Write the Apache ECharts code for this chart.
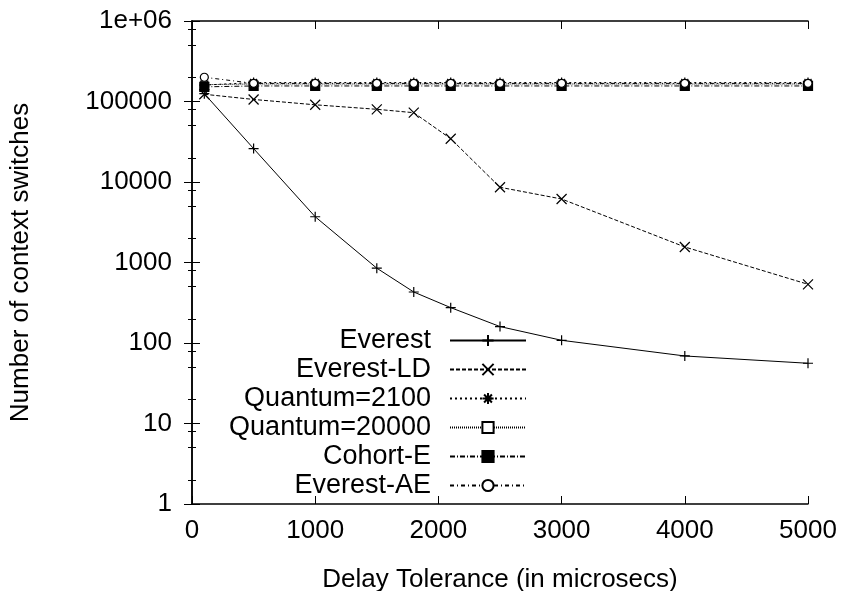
<!DOCTYPE html>
<html>
<head>
<meta charset="utf-8">
<script src="https://cdn.jsdelivr.net/npm/echarts@6/dist/echarts.min.js"></script>
<style>
  html, body { margin: 0; padding: 0; background: #fff; }
  #main { width: 848px; height: 591px; }
</style>
</head>
<body>
<div id="main"></div>
<script>
var delays = [100, 500, 1000, 1500, 1800, 2100, 2500, 3000, 4000, 5000];
var everest = [125000, 26000, 3700, 850, 430, 275, 160, 108, 69, 56];
var everestLD = [123000, 106000, 91000, 80000, 72600, 34500, 8600, 6150, 1560, 536];
var quantum2100 = [160000, 172000, 172000, 172000, 172000, 172000, 172000, 172000, 172000, 172000];
var quantum20000 = [162000, 165000, 165000, 165000, 165000, 165000, 165000, 165000, 165000, 165000];
var cohortE = [152000, 156000, 156000, 156000, 156000, 156000, 156000, 156000, 156000, 156000];
var everestAE = [200000, 168000, 168000, 168000, 168000, 168000, 168000, 168000, 168000, 168000];

// gnuplot puts small ticks at 2, 5 and 8 of each decade
var minorTicks = [];
for (var d = 1; d < 1e6; d *= 10) {
  minorTicks.push(2 * d, 5 * d, 8 * d);
}

var font = 'Liberation Sans, Arial, sans-serif';

var dom = document.getElementById('main');
var myChart = echarts.init(dom, null, { renderer: 'canvas' });

function pairs(ys) {
  var res = [];
  for (var i = 0; i < delays.length; i++) {
    res.push([delays[i], ys[i]]);
  }
  return res;
}

var symPlus = 'path://M0,5L10,5M5,0L5,10';
var symCross = 'path://M0,0L10,10M10,0L0,10';
var symStar = 'path://M0,5L10,5M5,0L5,10M1.5,1.5L8.5,8.5M8.5,1.5L1.5,8.5';

function line(name, ys, dash, symbol, size, fill) {
  return {
    name: name,
    type: 'line',
    data: pairs(ys),
    symbol: symbol,
    symbolSize: size,
    showAllSymbol: true,
    lineStyle: { color: '#000', width: 1, type: dash },
    itemStyle: { color: fill, borderColor: '#000', borderWidth: 1.2 },
    emphasis: { disabled: true }
  };
}

var axisLineStyle = { lineStyle: { color: '#000', width: 1.5 } };
var tickStyle = { color: '#000', width: 1 };
function gridBox() {
  return { left: 192, right: 40, top: 21, bottom: 87, containLabel: false, outerBoundsMode: 'none' };
}

// extra grids (same box) only carry the small log ticks
function minorAxis(pos, g) {
  return {
    type: 'log', logBase: 10, min: 1, max: 1e6, position: pos, gridIndex: g,
    axisLine: { show: false },
    axisTick: { inside: true, length: 4, customValues: minorTicks, lineStyle: tickStyle },
    axisLabel: { show: false },
    splitLine: { show: false }
  };
}

var option = {
  backgroundColor: '#fff',
  animation: false,
  textStyle: { fontFamily: font },
  grid: [gridBox(), gridBox(), gridBox()],
  legend: {
    orient: 'vertical',
    right: 321,
    top: 327,
    align: 'right',
    itemWidth: 76,
    itemHeight: 14,
    itemGap: 2,
    padding: 0,
    selectedMode: false,
    textStyle: {
      fontFamily: font, fontSize: 27, color: '#000',
      width: 170, align: 'right', padding: [0, 14, 0, 0], lineHeight: 25
    },
    data: ['Everest', 'Everest-LD', 'Quantum=2100', 'Quantum=20000', 'Cohort-E', 'Everest-AE']
  },
  xAxis: [{
    type: 'value', min: 0, max: 5000, interval: 1000,
    name: 'Delay Tolerance (in microsecs)', nameLocation: 'middle', nameGap: 63,
    nameTextStyle: { fontFamily: font, fontSize: 26, color: '#000' },
    axisLine: axisLineStyle,
    axisTick: { inside: true, length: 8, lineStyle: tickStyle },
    axisLabel: {
      fontFamily: font, fontSize: 26, color: '#000', margin: 14,
      formatter: function (v) { return String(v); }
    },
    splitLine: { show: false }
  }, {
    type: 'value', min: 0, max: 5000, interval: 1000, position: 'top',
    axisLine: axisLineStyle,
    axisTick: { inside: true, length: 8, lineStyle: tickStyle },
    axisLabel: { show: false },
    splitLine: { show: false }
  },
  { type: 'value', min: 0, max: 5000, gridIndex: 1, show: false },
  { type: 'value', min: 0, max: 5000, gridIndex: 2, show: false }
  ],
  yAxis: [{
    type: 'log', logBase: 10, min: 1, max: 1e6,
    name: 'Number of context switches', nameLocation: 'middle', nameGap: 158,
    nameTextStyle: { fontFamily: font, fontSize: 26, color: '#000' },
    axisLine: axisLineStyle,
    axisTick: { inside: true, length: 8, lineStyle: tickStyle },
    axisLabel: {
      fontFamily: font, fontSize: 26, color: '#000', margin: 20,
      formatter: function (v) { return v >= 1e6 ? '1e+06' : String(Math.round(v)); }
    },
    splitLine: { show: false }
  }, {
    type: 'log', logBase: 10, min: 1, max: 1e6, position: 'right',
    axisLine: axisLineStyle,
    axisTick: { inside: true, length: 8, lineStyle: tickStyle },
    axisLabel: { show: false },
    splitLine: { show: false }
  },
  minorAxis('left', 1),
  minorAxis('right', 2)
  ],
  series: [
    line('Everest', everest, 'solid', symPlus, 10, '#000'),
    line('Everest-LD', everestLD, [4, 2], symCross, 10, '#000'),
    line('Quantum=2100', quantum2100, [2, 3], symStar, 10, '#000'),
    line('Quantum=20000', quantum20000, [1, 1], 'rect', 7, '#fff'),
    line('Cohort-E', cohortE, [5, 2, 1, 2], 'rect', 9, '#000'),
    line('Everest-AE', everestAE, [4, 3, 1, 3], 'circle', 8, '#fff')
  ]
};

if (option && typeof option === 'object') {
  myChart.setOption(option, true);
}
</script>
</body>
</html>
